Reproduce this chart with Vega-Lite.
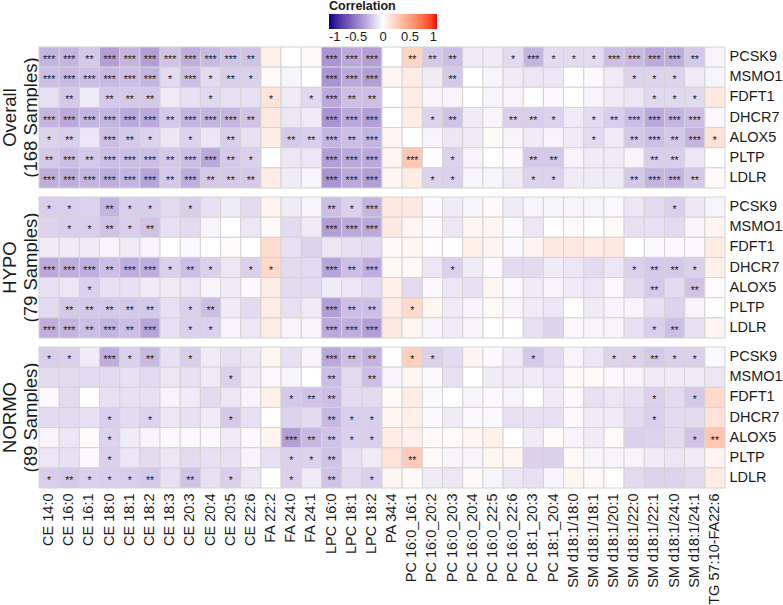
{
"$schema": "https://vega.github.io/schema/vega-lite/v6.json",
"background": "white",
"padding": 0,
"data": {"values": [
{"g":"O","y":"PCSK9","x":"CE 14:0","r":-0.28,"s":"***"},
{"g":"O","y":"PCSK9","x":"CE 16:0","r":-0.28,"s":"***"},
{"g":"O","y":"PCSK9","x":"CE 16:1","r":-0.2,"s":"**"},
{"g":"O","y":"PCSK9","x":"CE 18:0","r":-0.36,"s":"***"},
{"g":"O","y":"PCSK9","x":"CE 18:1","r":-0.28,"s":"***"},
{"g":"O","y":"PCSK9","x":"CE 18:2","r":-0.36,"s":"***"},
{"g":"O","y":"PCSK9","x":"CE 18:3","r":-0.22,"s":"***"},
{"g":"O","y":"PCSK9","x":"CE 20:3","r":-0.3,"s":"***"},
{"g":"O","y":"PCSK9","x":"CE 20:4","r":-0.26,"s":"***"},
{"g":"O","y":"PCSK9","x":"CE 20:5","r":-0.22,"s":"***"},
{"g":"O","y":"PCSK9","x":"CE 22:6","r":-0.22,"s":"**"},
{"g":"O","y":"PCSK9","x":"FA 22:2","r":0.08},
{"g":"O","y":"PCSK9","x":"FA 24:0","r":0},
{"g":"O","y":"PCSK9","x":"FA 24:1","r":0.03},
{"g":"O","y":"PCSK9","x":"LPC 16:0","r":-0.4,"s":"***"},
{"g":"O","y":"PCSK9","x":"LPC 18:1","r":-0.32,"s":"***"},
{"g":"O","y":"PCSK9","x":"LPC 18:2","r":-0.36,"s":"***"},
{"g":"O","y":"PCSK9","x":"PA 34:4","r":0},
{"g":"O","y":"PCSK9","x":"PC 16:0_16:1","r":0.22,"s":"**"},
{"g":"O","y":"PCSK9","x":"PC 16:0_20:2","r":-0.2,"s":"**"},
{"g":"O","y":"PCSK9","x":"PC 16:0_20:3","r":-0.24,"s":"**"},
{"g":"O","y":"PCSK9","x":"PC 16:0_20:4","r":-0.07},
{"g":"O","y":"PCSK9","x":"PC 16:0_22:5","r":-0.07},
{"g":"O","y":"PCSK9","x":"PC 16:0_22:6","r":-0.13,"s":"*"},
{"g":"O","y":"PCSK9","x":"PC 18:1_20:3","r":-0.28,"s":"***"},
{"g":"O","y":"PCSK9","x":"PC 18:1_20:4","r":-0.13,"s":"*"},
{"g":"O","y":"PCSK9","x":"SM d18:1/18:0","r":-0.13,"s":"*"},
{"g":"O","y":"PCSK9","x":"SM d18:1/18:1","r":-0.13,"s":"*"},
{"g":"O","y":"PCSK9","x":"SM d18:1/20:1","r":-0.24,"s":"***"},
{"g":"O","y":"PCSK9","x":"SM d18:1/22:0","r":-0.26,"s":"***"},
{"g":"O","y":"PCSK9","x":"SM d18:1/22:1","r":-0.32,"s":"***"},
{"g":"O","y":"PCSK9","x":"SM d18:1/24:0","r":-0.3,"s":"***"},
{"g":"O","y":"PCSK9","x":"SM d18:1/24:1","r":-0.2,"s":"**"},
{"g":"O","y":"PCSK9","x":"TG 57:10-FA22:6","r":-0.04},
{"g":"O","y":"MSMO1","x":"CE 14:0","r":-0.24,"s":"***"},
{"g":"O","y":"MSMO1","x":"CE 16:0","r":-0.26,"s":"***"},
{"g":"O","y":"MSMO1","x":"CE 16:1","r":-0.24,"s":"***"},
{"g":"O","y":"MSMO1","x":"CE 18:0","r":-0.26,"s":"***"},
{"g":"O","y":"MSMO1","x":"CE 18:1","r":-0.24,"s":"***"},
{"g":"O","y":"MSMO1","x":"CE 18:2","r":-0.28,"s":"***"},
{"g":"O","y":"MSMO1","x":"CE 18:3","r":-0.13,"s":"*"},
{"g":"O","y":"MSMO1","x":"CE 20:3","r":-0.24,"s":"***"},
{"g":"O","y":"MSMO1","x":"CE 20:4","r":-0.13,"s":"*"},
{"g":"O","y":"MSMO1","x":"CE 20:5","r":-0.18,"s":"**"},
{"g":"O","y":"MSMO1","x":"CE 22:6","r":-0.17,"s":"*"},
{"g":"O","y":"MSMO1","x":"FA 22:2","r":0.03},
{"g":"O","y":"MSMO1","x":"FA 24:0","r":-0.04},
{"g":"O","y":"MSMO1","x":"FA 24:1","r":0},
{"g":"O","y":"MSMO1","x":"LPC 16:0","r":-0.4,"s":"***"},
{"g":"O","y":"MSMO1","x":"LPC 18:1","r":-0.32,"s":"***"},
{"g":"O","y":"MSMO1","x":"LPC 18:2","r":-0.36,"s":"***"},
{"g":"O","y":"MSMO1","x":"PA 34:4","r":0.05},
{"g":"O","y":"MSMO1","x":"PC 16:0_16:1","r":0.1},
{"g":"O","y":"MSMO1","x":"PC 16:0_20:2","r":-0.07},
{"g":"O","y":"MSMO1","x":"PC 16:0_20:3","r":-0.2,"s":"**"},
{"g":"O","y":"MSMO1","x":"PC 16:0_20:4","r":0},
{"g":"O","y":"MSMO1","x":"PC 16:0_22:5","r":-0.04},
{"g":"O","y":"MSMO1","x":"PC 16:0_22:6","r":-0.07},
{"g":"O","y":"MSMO1","x":"PC 18:1_20:3","r":-0.09},
{"g":"O","y":"MSMO1","x":"PC 18:1_20:4","r":-0.09},
{"g":"O","y":"MSMO1","x":"SM d18:1/18:0","r":0},
{"g":"O","y":"MSMO1","x":"SM d18:1/18:1","r":-0.02},
{"g":"O","y":"MSMO1","x":"SM d18:1/20:1","r":-0.07},
{"g":"O","y":"MSMO1","x":"SM d18:1/22:0","r":-0.16,"s":"*"},
{"g":"O","y":"MSMO1","x":"SM d18:1/22:1","r":-0.16,"s":"*"},
{"g":"O","y":"MSMO1","x":"SM d18:1/24:0","r":-0.16,"s":"*"},
{"g":"O","y":"MSMO1","x":"SM d18:1/24:1","r":-0.07},
{"g":"O","y":"MSMO1","x":"TG 57:10-FA22:6","r":-0.04},
{"g":"O","y":"FDFT1","x":"CE 14:0","r":-0.11},
{"g":"O","y":"FDFT1","x":"CE 16:0","r":-0.2,"s":"**"},
{"g":"O","y":"FDFT1","x":"CE 16:1","r":-0.07},
{"g":"O","y":"FDFT1","x":"CE 18:0","r":-0.2,"s":"**"},
{"g":"O","y":"FDFT1","x":"CE 18:1","r":-0.2,"s":"**"},
{"g":"O","y":"FDFT1","x":"CE 18:2","r":-0.2,"s":"**"},
{"g":"O","y":"FDFT1","x":"CE 18:3","r":-0.07},
{"g":"O","y":"FDFT1","x":"CE 20:3","r":-0.11},
{"g":"O","y":"FDFT1","x":"CE 20:4","r":-0.14,"s":"*"},
{"g":"O","y":"FDFT1","x":"CE 20:5","r":-0.11},
{"g":"O","y":"FDFT1","x":"CE 22:6","r":-0.11},
{"g":"O","y":"FDFT1","x":"FA 22:2","r":0.15,"s":"*"},
{"g":"O","y":"FDFT1","x":"FA 24:0","r":-0.07},
{"g":"O","y":"FDFT1","x":"FA 24:1","r":-0.14,"s":"*"},
{"g":"O","y":"FDFT1","x":"LPC 16:0","r":-0.32,"s":"***"},
{"g":"O","y":"FDFT1","x":"LPC 18:1","r":-0.24,"s":"**"},
{"g":"O","y":"FDFT1","x":"LPC 18:2","r":-0.24,"s":"**"},
{"g":"O","y":"FDFT1","x":"PA 34:4","r":0},
{"g":"O","y":"FDFT1","x":"PC 16:0_16:1","r":0.1},
{"g":"O","y":"FDFT1","x":"PC 16:0_20:2","r":-0.04},
{"g":"O","y":"FDFT1","x":"PC 16:0_20:3","r":-0.04},
{"g":"O","y":"FDFT1","x":"PC 16:0_20:4","r":0},
{"g":"O","y":"FDFT1","x":"PC 16:0_22:5","r":-0.04},
{"g":"O","y":"FDFT1","x":"PC 16:0_22:6","r":-0.04},
{"g":"O","y":"FDFT1","x":"PC 18:1_20:3","r":0},
{"g":"O","y":"FDFT1","x":"PC 18:1_20:4","r":-0.02},
{"g":"O","y":"FDFT1","x":"SM d18:1/18:0","r":0},
{"g":"O","y":"FDFT1","x":"SM d18:1/18:1","r":-0.04},
{"g":"O","y":"FDFT1","x":"SM d18:1/20:1","r":-0.07},
{"g":"O","y":"FDFT1","x":"SM d18:1/22:0","r":-0.09},
{"g":"O","y":"FDFT1","x":"SM d18:1/22:1","r":-0.14,"s":"*"},
{"g":"O","y":"FDFT1","x":"SM d18:1/24:0","r":-0.14,"s":"*"},
{"g":"O","y":"FDFT1","x":"SM d18:1/24:1","r":-0.14,"s":"*"},
{"g":"O","y":"FDFT1","x":"TG 57:10-FA22:6","r":0.12},
{"g":"O","y":"DHCR7","x":"CE 14:0","r":-0.28,"s":"***"},
{"g":"O","y":"DHCR7","x":"CE 16:0","r":-0.32,"s":"***"},
{"g":"O","y":"DHCR7","x":"CE 16:1","r":-0.28,"s":"***"},
{"g":"O","y":"DHCR7","x":"CE 18:0","r":-0.28,"s":"***"},
{"g":"O","y":"DHCR7","x":"CE 18:1","r":-0.32,"s":"***"},
{"g":"O","y":"DHCR7","x":"CE 18:2","r":-0.32,"s":"***"},
{"g":"O","y":"DHCR7","x":"CE 18:3","r":-0.2,"s":"**"},
{"g":"O","y":"DHCR7","x":"CE 20:3","r":-0.28,"s":"***"},
{"g":"O","y":"DHCR7","x":"CE 20:4","r":-0.28,"s":"***"},
{"g":"O","y":"DHCR7","x":"CE 20:5","r":-0.28,"s":"***"},
{"g":"O","y":"DHCR7","x":"CE 22:6","r":-0.22,"s":"**"},
{"g":"O","y":"DHCR7","x":"FA 22:2","r":0.12},
{"g":"O","y":"DHCR7","x":"FA 24:0","r":-0.09},
{"g":"O","y":"DHCR7","x":"FA 24:1","r":-0.07},
{"g":"O","y":"DHCR7","x":"LPC 16:0","r":-0.4,"s":"***"},
{"g":"O","y":"DHCR7","x":"LPC 18:1","r":-0.32,"s":"***"},
{"g":"O","y":"DHCR7","x":"LPC 18:2","r":-0.36,"s":"***"},
{"g":"O","y":"DHCR7","x":"PA 34:4","r":0},
{"g":"O","y":"DHCR7","x":"PC 16:0_16:1","r":0.1},
{"g":"O","y":"DHCR7","x":"PC 16:0_20:2","r":-0.16,"s":"*"},
{"g":"O","y":"DHCR7","x":"PC 16:0_20:3","r":-0.22,"s":"**"},
{"g":"O","y":"DHCR7","x":"PC 16:0_20:4","r":-0.07},
{"g":"O","y":"DHCR7","x":"PC 16:0_22:5","r":-0.04},
{"g":"O","y":"DHCR7","x":"PC 16:0_22:6","r":-0.18,"s":"**"},
{"g":"O","y":"DHCR7","x":"PC 18:1_20:3","r":-0.18,"s":"**"},
{"g":"O","y":"DHCR7","x":"PC 18:1_20:4","r":-0.16,"s":"*"},
{"g":"O","y":"DHCR7","x":"SM d18:1/18:0","r":-0.07},
{"g":"O","y":"DHCR7","x":"SM d18:1/18:1","r":-0.13,"s":"*"},
{"g":"O","y":"DHCR7","x":"SM d18:1/20:1","r":-0.18,"s":"**"},
{"g":"O","y":"DHCR7","x":"SM d18:1/22:0","r":-0.24,"s":"***"},
{"g":"O","y":"DHCR7","x":"SM d18:1/22:1","r":-0.32,"s":"***"},
{"g":"O","y":"DHCR7","x":"SM d18:1/24:0","r":-0.28,"s":"***"},
{"g":"O","y":"DHCR7","x":"SM d18:1/24:1","r":-0.24,"s":"***"},
{"g":"O","y":"DHCR7","x":"TG 57:10-FA22:6","r":-0.02},
{"g":"O","y":"ALOX5","x":"CE 14:0","r":-0.16,"s":"*"},
{"g":"O","y":"ALOX5","x":"CE 16:0","r":-0.18,"s":"**"},
{"g":"O","y":"ALOX5","x":"CE 16:1","r":-0.09},
{"g":"O","y":"ALOX5","x":"CE 18:0","r":-0.24,"s":"***"},
{"g":"O","y":"ALOX5","x":"CE 18:1","r":-0.2,"s":"**"},
{"g":"O","y":"ALOX5","x":"CE 18:2","r":-0.16,"s":"*"},
{"g":"O","y":"ALOX5","x":"CE 18:3","r":-0.09},
{"g":"O","y":"ALOX5","x":"CE 20:3","r":-0.16,"s":"*"},
{"g":"O","y":"ALOX5","x":"CE 20:4","r":-0.09},
{"g":"O","y":"ALOX5","x":"CE 20:5","r":-0.18,"s":"**"},
{"g":"O","y":"ALOX5","x":"CE 22:6","r":-0.11},
{"g":"O","y":"ALOX5","x":"FA 22:2","r":0.1},
{"g":"O","y":"ALOX5","x":"FA 24:0","r":-0.2,"s":"**"},
{"g":"O","y":"ALOX5","x":"FA 24:1","r":-0.18,"s":"**"},
{"g":"O","y":"ALOX5","x":"LPC 16:0","r":-0.28,"s":"***"},
{"g":"O","y":"ALOX5","x":"LPC 18:1","r":-0.24,"s":"**"},
{"g":"O","y":"ALOX5","x":"LPC 18:2","r":-0.28,"s":"***"},
{"g":"O","y":"ALOX5","x":"PA 34:4","r":0.05},
{"g":"O","y":"ALOX5","x":"PC 16:0_16:1","r":0},
{"g":"O","y":"ALOX5","x":"PC 16:0_20:2","r":-0.04},
{"g":"O","y":"ALOX5","x":"PC 16:0_20:3","r":-0.09},
{"g":"O","y":"ALOX5","x":"PC 16:0_20:4","r":-0.07},
{"g":"O","y":"ALOX5","x":"PC 16:0_22:5","r":0.03},
{"g":"O","y":"ALOX5","x":"PC 16:0_22:6","r":-0.04},
{"g":"O","y":"ALOX5","x":"PC 18:1_20:3","r":-0.07},
{"g":"O","y":"ALOX5","x":"PC 18:1_20:4","r":-0.04},
{"g":"O","y":"ALOX5","x":"SM d18:1/18:0","r":-0.07},
{"g":"O","y":"ALOX5","x":"SM d18:1/18:1","r":-0.13,"s":"*"},
{"g":"O","y":"ALOX5","x":"SM d18:1/20:1","r":-0.07},
{"g":"O","y":"ALOX5","x":"SM d18:1/22:0","r":-0.2,"s":"**"},
{"g":"O","y":"ALOX5","x":"SM d18:1/22:1","r":-0.24,"s":"***"},
{"g":"O","y":"ALOX5","x":"SM d18:1/24:0","r":-0.2,"s":"**"},
{"g":"O","y":"ALOX5","x":"SM d18:1/24:1","r":-0.28,"s":"***"},
{"g":"O","y":"ALOX5","x":"TG 57:10-FA22:6","r":0.15,"s":"*"},
{"g":"O","y":"PLTP","x":"CE 14:0","r":-0.2,"s":"**"},
{"g":"O","y":"PLTP","x":"CE 16:0","r":-0.24,"s":"***"},
{"g":"O","y":"PLTP","x":"CE 16:1","r":-0.2,"s":"**"},
{"g":"O","y":"PLTP","x":"CE 18:0","r":-0.24,"s":"***"},
{"g":"O","y":"PLTP","x":"CE 18:1","r":-0.24,"s":"***"},
{"g":"O","y":"PLTP","x":"CE 18:2","r":-0.24,"s":"***"},
{"g":"O","y":"PLTP","x":"CE 18:3","r":-0.2,"s":"**"},
{"g":"O","y":"PLTP","x":"CE 20:3","r":-0.24,"s":"***"},
{"g":"O","y":"PLTP","x":"CE 20:4","r":-0.32,"s":"***"},
{"g":"O","y":"PLTP","x":"CE 20:5","r":-0.2,"s":"**"},
{"g":"O","y":"PLTP","x":"CE 22:6","r":-0.17,"s":"*"},
{"g":"O","y":"PLTP","x":"FA 22:2","r":0},
{"g":"O","y":"PLTP","x":"FA 24:0","r":-0.09},
{"g":"O","y":"PLTP","x":"FA 24:1","r":-0.09},
{"g":"O","y":"PLTP","x":"LPC 16:0","r":-0.36,"s":"***"},
{"g":"O","y":"PLTP","x":"LPC 18:1","r":-0.32,"s":"***"},
{"g":"O","y":"PLTP","x":"LPC 18:2","r":-0.32,"s":"***"},
{"g":"O","y":"PLTP","x":"PA 34:4","r":0.05},
{"g":"O","y":"PLTP","x":"PC 16:0_16:1","r":0.3,"s":"***"},
{"g":"O","y":"PLTP","x":"PC 16:0_20:2","r":0},
{"g":"O","y":"PLTP","x":"PC 16:0_20:3","r":-0.16,"s":"*"},
{"g":"O","y":"PLTP","x":"PC 16:0_20:4","r":-0.04},
{"g":"O","y":"PLTP","x":"PC 16:0_22:5","r":0},
{"g":"O","y":"PLTP","x":"PC 16:0_22:6","r":-0.02},
{"g":"O","y":"PLTP","x":"PC 18:1_20:3","r":-0.2,"s":"**"},
{"g":"O","y":"PLTP","x":"PC 18:1_20:4","r":-0.2,"s":"**"},
{"g":"O","y":"PLTP","x":"SM d18:1/18:0","r":-0.04},
{"g":"O","y":"PLTP","x":"SM d18:1/18:1","r":-0.07},
{"g":"O","y":"PLTP","x":"SM d18:1/20:1","r":-0.07},
{"g":"O","y":"PLTP","x":"SM d18:1/22:0","r":-0.04},
{"g":"O","y":"PLTP","x":"SM d18:1/22:1","r":-0.18,"s":"**"},
{"g":"O","y":"PLTP","x":"SM d18:1/24:0","r":-0.18,"s":"**"},
{"g":"O","y":"PLTP","x":"SM d18:1/24:1","r":-0.09},
{"g":"O","y":"PLTP","x":"TG 57:10-FA22:6","r":0},
{"g":"O","y":"LDLR","x":"CE 14:0","r":-0.3,"s":"***"},
{"g":"O","y":"LDLR","x":"CE 16:0","r":-0.3,"s":"***"},
{"g":"O","y":"LDLR","x":"CE 16:1","r":-0.28,"s":"***"},
{"g":"O","y":"LDLR","x":"CE 18:0","r":-0.3,"s":"***"},
{"g":"O","y":"LDLR","x":"CE 18:1","r":-0.28,"s":"***"},
{"g":"O","y":"LDLR","x":"CE 18:2","r":-0.34,"s":"***"},
{"g":"O","y":"LDLR","x":"CE 18:3","r":-0.2,"s":"**"},
{"g":"O","y":"LDLR","x":"CE 20:3","r":-0.3,"s":"***"},
{"g":"O","y":"LDLR","x":"CE 20:4","r":-0.2,"s":"**"},
{"g":"O","y":"LDLR","x":"CE 20:5","r":-0.2,"s":"**"},
{"g":"O","y":"LDLR","x":"CE 22:6","r":-0.2,"s":"**"},
{"g":"O","y":"LDLR","x":"FA 22:2","r":0.1},
{"g":"O","y":"LDLR","x":"FA 24:0","r":-0.07},
{"g":"O","y":"LDLR","x":"FA 24:1","r":-0.04},
{"g":"O","y":"LDLR","x":"LPC 16:0","r":-0.4,"s":"***"},
{"g":"O","y":"LDLR","x":"LPC 18:1","r":-0.32,"s":"***"},
{"g":"O","y":"LDLR","x":"LPC 18:2","r":-0.36,"s":"***"},
{"g":"O","y":"LDLR","x":"PA 34:4","r":0.05},
{"g":"O","y":"LDLR","x":"PC 16:0_16:1","r":0.1},
{"g":"O","y":"LDLR","x":"PC 16:0_20:2","r":-0.16,"s":"*"},
{"g":"O","y":"LDLR","x":"PC 16:0_20:3","r":-0.17,"s":"*"},
{"g":"O","y":"LDLR","x":"PC 16:0_20:4","r":-0.04},
{"g":"O","y":"LDLR","x":"PC 16:0_22:5","r":-0.04},
{"g":"O","y":"LDLR","x":"PC 16:0_22:6","r":-0.07},
{"g":"O","y":"LDLR","x":"PC 18:1_20:3","r":-0.16,"s":"*"},
{"g":"O","y":"LDLR","x":"PC 18:1_20:4","r":-0.16,"s":"*"},
{"g":"O","y":"LDLR","x":"SM d18:1/18:0","r":-0.07},
{"g":"O","y":"LDLR","x":"SM d18:1/18:1","r":-0.07},
{"g":"O","y":"LDLR","x":"SM d18:1/20:1","r":-0.07},
{"g":"O","y":"LDLR","x":"SM d18:1/22:0","r":-0.2,"s":"**"},
{"g":"O","y":"LDLR","x":"SM d18:1/22:1","r":-0.28,"s":"***"},
{"g":"O","y":"LDLR","x":"SM d18:1/24:0","r":-0.28,"s":"***"},
{"g":"O","y":"LDLR","x":"SM d18:1/24:1","r":-0.2,"s":"**"},
{"g":"O","y":"LDLR","x":"TG 57:10-FA22:6","r":0.03},
{"g":"H","y":"PCSK9","x":"CE 14:0","r":-0.18,"s":"*"},
{"g":"H","y":"PCSK9","x":"CE 16:0","r":-0.18,"s":"*"},
{"g":"H","y":"PCSK9","x":"CE 16:1","r":-0.16},
{"g":"H","y":"PCSK9","x":"CE 18:0","r":-0.28,"s":"**"},
{"g":"H","y":"PCSK9","x":"CE 18:1","r":-0.18,"s":"*"},
{"g":"H","y":"PCSK9","x":"CE 18:2","r":-0.18,"s":"*"},
{"g":"H","y":"PCSK9","x":"CE 18:3","r":-0.13},
{"g":"H","y":"PCSK9","x":"CE 20:3","r":-0.18,"s":"*"},
{"g":"H","y":"PCSK9","x":"CE 20:4","r":-0.11},
{"g":"H","y":"PCSK9","x":"CE 20:5","r":-0.07},
{"g":"H","y":"PCSK9","x":"CE 22:6","r":-0.13},
{"g":"H","y":"PCSK9","x":"FA 22:2","r":0.06},
{"g":"H","y":"PCSK9","x":"FA 24:0","r":-0.07},
{"g":"H","y":"PCSK9","x":"FA 24:1","r":-0.04},
{"g":"H","y":"PCSK9","x":"LPC 16:0","r":-0.24,"s":"**"},
{"g":"H","y":"PCSK9","x":"LPC 18:1","r":-0.17,"s":"*"},
{"g":"H","y":"PCSK9","x":"LPC 18:2","r":-0.28,"s":"***"},
{"g":"H","y":"PCSK9","x":"PA 34:4","r":0.12},
{"g":"H","y":"PCSK9","x":"PC 16:0_16:1","r":0.12},
{"g":"H","y":"PCSK9","x":"PC 16:0_20:2","r":-0.02},
{"g":"H","y":"PCSK9","x":"PC 16:0_20:3","r":-0.07},
{"g":"H","y":"PCSK9","x":"PC 16:0_20:4","r":-0.04},
{"g":"H","y":"PCSK9","x":"PC 16:0_22:5","r":0.03},
{"g":"H","y":"PCSK9","x":"PC 16:0_22:6","r":-0.07},
{"g":"H","y":"PCSK9","x":"PC 18:1_20:3","r":-0.04},
{"g":"H","y":"PCSK9","x":"PC 18:1_20:4","r":-0.04},
{"g":"H","y":"PCSK9","x":"SM d18:1/18:0","r":-0.04},
{"g":"H","y":"PCSK9","x":"SM d18:1/18:1","r":-0.04},
{"g":"H","y":"PCSK9","x":"SM d18:1/20:1","r":-0.02},
{"g":"H","y":"PCSK9","x":"SM d18:1/22:0","r":-0.09},
{"g":"H","y":"PCSK9","x":"SM d18:1/22:1","r":-0.13},
{"g":"H","y":"PCSK9","x":"SM d18:1/24:0","r":-0.17,"s":"*"},
{"g":"H","y":"PCSK9","x":"SM d18:1/24:1","r":-0.09},
{"g":"H","y":"PCSK9","x":"TG 57:10-FA22:6","r":-0.04},
{"g":"H","y":"MSMO1","x":"CE 14:0","r":-0.16},
{"g":"H","y":"MSMO1","x":"CE 16:0","r":-0.18,"s":"*"},
{"g":"H","y":"MSMO1","x":"CE 16:1","r":-0.18,"s":"*"},
{"g":"H","y":"MSMO1","x":"CE 18:0","r":-0.22,"s":"**"},
{"g":"H","y":"MSMO1","x":"CE 18:1","r":-0.18,"s":"*"},
{"g":"H","y":"MSMO1","x":"CE 18:2","r":-0.22,"s":"**"},
{"g":"H","y":"MSMO1","x":"CE 18:3","r":-0.11},
{"g":"H","y":"MSMO1","x":"CE 20:3","r":-0.13},
{"g":"H","y":"MSMO1","x":"CE 20:4","r":-0.04},
{"g":"H","y":"MSMO1","x":"CE 20:5","r":0},
{"g":"H","y":"MSMO1","x":"CE 22:6","r":-0.09},
{"g":"H","y":"MSMO1","x":"FA 22:2","r":0.03},
{"g":"H","y":"MSMO1","x":"FA 24:0","r":-0.13},
{"g":"H","y":"MSMO1","x":"FA 24:1","r":-0.07},
{"g":"H","y":"MSMO1","x":"LPC 16:0","r":-0.36,"s":"***"},
{"g":"H","y":"MSMO1","x":"LPC 18:1","r":-0.32,"s":"***"},
{"g":"H","y":"MSMO1","x":"LPC 18:2","r":-0.32,"s":"***"},
{"g":"H","y":"MSMO1","x":"PA 34:4","r":0.12},
{"g":"H","y":"MSMO1","x":"PC 16:0_16:1","r":0.05},
{"g":"H","y":"MSMO1","x":"PC 16:0_20:2","r":-0.02},
{"g":"H","y":"MSMO1","x":"PC 16:0_20:3","r":-0.09},
{"g":"H","y":"MSMO1","x":"PC 16:0_20:4","r":0.05},
{"g":"H","y":"MSMO1","x":"PC 16:0_22:5","r":0.05},
{"g":"H","y":"MSMO1","x":"PC 16:0_22:6","r":-0.02},
{"g":"H","y":"MSMO1","x":"PC 18:1_20:3","r":-0.09},
{"g":"H","y":"MSMO1","x":"PC 18:1_20:4","r":0},
{"g":"H","y":"MSMO1","x":"SM d18:1/18:0","r":0.03},
{"g":"H","y":"MSMO1","x":"SM d18:1/18:1","r":0},
{"g":"H","y":"MSMO1","x":"SM d18:1/20:1","r":0.03},
{"g":"H","y":"MSMO1","x":"SM d18:1/22:0","r":-0.11},
{"g":"H","y":"MSMO1","x":"SM d18:1/22:1","r":-0.11},
{"g":"H","y":"MSMO1","x":"SM d18:1/24:0","r":-0.13},
{"g":"H","y":"MSMO1","x":"SM d18:1/24:1","r":-0.04},
{"g":"H","y":"MSMO1","x":"TG 57:10-FA22:6","r":0.05},
{"g":"H","y":"FDFT1","x":"CE 14:0","r":-0.07},
{"g":"H","y":"FDFT1","x":"CE 16:0","r":-0.07},
{"g":"H","y":"FDFT1","x":"CE 16:1","r":-0.07},
{"g":"H","y":"FDFT1","x":"CE 18:0","r":-0.04},
{"g":"H","y":"FDFT1","x":"CE 18:1","r":-0.07},
{"g":"H","y":"FDFT1","x":"CE 18:2","r":-0.04},
{"g":"H","y":"FDFT1","x":"CE 18:3","r":0},
{"g":"H","y":"FDFT1","x":"CE 20:3","r":-0.02},
{"g":"H","y":"FDFT1","x":"CE 20:4","r":0},
{"g":"H","y":"FDFT1","x":"CE 20:5","r":0.02},
{"g":"H","y":"FDFT1","x":"CE 22:6","r":0},
{"g":"H","y":"FDFT1","x":"FA 22:2","r":0.18},
{"g":"H","y":"FDFT1","x":"FA 24:0","r":-0.11},
{"g":"H","y":"FDFT1","x":"FA 24:1","r":-0.16},
{"g":"H","y":"FDFT1","x":"LPC 16:0","r":-0.09},
{"g":"H","y":"FDFT1","x":"LPC 18:1","r":-0.11},
{"g":"H","y":"FDFT1","x":"LPC 18:2","r":-0.13},
{"g":"H","y":"FDFT1","x":"PA 34:4","r":0.03},
{"g":"H","y":"FDFT1","x":"PC 16:0_16:1","r":0.05},
{"g":"H","y":"FDFT1","x":"PC 16:0_20:2","r":0.02},
{"g":"H","y":"FDFT1","x":"PC 16:0_20:3","r":0},
{"g":"H","y":"FDFT1","x":"PC 16:0_20:4","r":0.08},
{"g":"H","y":"FDFT1","x":"PC 16:0_22:5","r":0.06},
{"g":"H","y":"FDFT1","x":"PC 16:0_22:6","r":-0.02},
{"g":"H","y":"FDFT1","x":"PC 18:1_20:3","r":0.06},
{"g":"H","y":"FDFT1","x":"PC 18:1_20:4","r":0.12},
{"g":"H","y":"FDFT1","x":"SM d18:1/18:0","r":0.12},
{"g":"H","y":"FDFT1","x":"SM d18:1/18:1","r":0.1},
{"g":"H","y":"FDFT1","x":"SM d18:1/20:1","r":0.12},
{"g":"H","y":"FDFT1","x":"SM d18:1/22:0","r":0},
{"g":"H","y":"FDFT1","x":"SM d18:1/22:1","r":-0.02},
{"g":"H","y":"FDFT1","x":"SM d18:1/24:0","r":-0.02},
{"g":"H","y":"FDFT1","x":"SM d18:1/24:1","r":-0.02},
{"g":"H","y":"FDFT1","x":"TG 57:10-FA22:6","r":0.1},
{"g":"H","y":"DHCR7","x":"CE 14:0","r":-0.32,"s":"***"},
{"g":"H","y":"DHCR7","x":"CE 16:0","r":-0.3,"s":"***"},
{"g":"H","y":"DHCR7","x":"CE 16:1","r":-0.3,"s":"***"},
{"g":"H","y":"DHCR7","x":"CE 18:0","r":-0.24,"s":"**"},
{"g":"H","y":"DHCR7","x":"CE 18:1","r":-0.3,"s":"***"},
{"g":"H","y":"DHCR7","x":"CE 18:2","r":-0.3,"s":"***"},
{"g":"H","y":"DHCR7","x":"CE 18:3","r":-0.17,"s":"*"},
{"g":"H","y":"DHCR7","x":"CE 20:3","r":-0.24,"s":"**"},
{"g":"H","y":"DHCR7","x":"CE 20:4","r":-0.17,"s":"*"},
{"g":"H","y":"DHCR7","x":"CE 20:5","r":-0.09},
{"g":"H","y":"DHCR7","x":"CE 22:6","r":-0.17,"s":"*"},
{"g":"H","y":"DHCR7","x":"FA 22:2","r":0.2,"s":"*"},
{"g":"H","y":"DHCR7","x":"FA 24:0","r":-0.13},
{"g":"H","y":"DHCR7","x":"FA 24:1","r":-0.13},
{"g":"H","y":"DHCR7","x":"LPC 16:0","r":-0.34,"s":"***"},
{"g":"H","y":"DHCR7","x":"LPC 18:1","r":-0.24,"s":"**"},
{"g":"H","y":"DHCR7","x":"LPC 18:2","r":-0.3,"s":"***"},
{"g":"H","y":"DHCR7","x":"PA 34:4","r":0.04},
{"g":"H","y":"DHCR7","x":"PC 16:0_16:1","r":0.03},
{"g":"H","y":"DHCR7","x":"PC 16:0_20:2","r":-0.09},
{"g":"H","y":"DHCR7","x":"PC 16:0_20:3","r":-0.17,"s":"*"},
{"g":"H","y":"DHCR7","x":"PC 16:0_20:4","r":-0.07},
{"g":"H","y":"DHCR7","x":"PC 16:0_22:5","r":-0.02},
{"g":"H","y":"DHCR7","x":"PC 16:0_22:6","r":-0.13},
{"g":"H","y":"DHCR7","x":"PC 18:1_20:3","r":-0.13},
{"g":"H","y":"DHCR7","x":"PC 18:1_20:4","r":-0.07},
{"g":"H","y":"DHCR7","x":"SM d18:1/18:0","r":-0.09},
{"g":"H","y":"DHCR7","x":"SM d18:1/18:1","r":-0.13},
{"g":"H","y":"DHCR7","x":"SM d18:1/20:1","r":-0.09},
{"g":"H","y":"DHCR7","x":"SM d18:1/22:0","r":-0.17,"s":"*"},
{"g":"H","y":"DHCR7","x":"SM d18:1/22:1","r":-0.2,"s":"**"},
{"g":"H","y":"DHCR7","x":"SM d18:1/24:0","r":-0.2,"s":"**"},
{"g":"H","y":"DHCR7","x":"SM d18:1/24:1","r":-0.17,"s":"*"},
{"g":"H","y":"DHCR7","x":"TG 57:10-FA22:6","r":0.08},
{"g":"H","y":"ALOX5","x":"CE 14:0","r":-0.11},
{"g":"H","y":"ALOX5","x":"CE 16:0","r":-0.09},
{"g":"H","y":"ALOX5","x":"CE 16:1","r":-0.17,"s":"*"},
{"g":"H","y":"ALOX5","x":"CE 18:0","r":-0.11},
{"g":"H","y":"ALOX5","x":"CE 18:1","r":-0.11},
{"g":"H","y":"ALOX5","x":"CE 18:2","r":-0.07},
{"g":"H","y":"ALOX5","x":"CE 18:3","r":-0.07},
{"g":"H","y":"ALOX5","x":"CE 20:3","r":-0.09},
{"g":"H","y":"ALOX5","x":"CE 20:4","r":-0.04},
{"g":"H","y":"ALOX5","x":"CE 20:5","r":-0.07},
{"g":"H","y":"ALOX5","x":"CE 22:6","r":-0.02},
{"g":"H","y":"ALOX5","x":"FA 22:2","r":0.1},
{"g":"H","y":"ALOX5","x":"FA 24:0","r":-0.13},
{"g":"H","y":"ALOX5","x":"FA 24:1","r":-0.13},
{"g":"H","y":"ALOX5","x":"LPC 16:0","r":-0.07},
{"g":"H","y":"ALOX5","x":"LPC 18:1","r":-0.09},
{"g":"H","y":"ALOX5","x":"LPC 18:2","r":-0.13},
{"g":"H","y":"ALOX5","x":"PA 34:4","r":0.08},
{"g":"H","y":"ALOX5","x":"PC 16:0_16:1","r":-0.13},
{"g":"H","y":"ALOX5","x":"PC 16:0_20:2","r":-0.02},
{"g":"H","y":"ALOX5","x":"PC 16:0_20:3","r":-0.09},
{"g":"H","y":"ALOX5","x":"PC 16:0_20:4","r":-0.11},
{"g":"H","y":"ALOX5","x":"PC 16:0_22:5","r":0.05},
{"g":"H","y":"ALOX5","x":"PC 16:0_22:6","r":-0.02},
{"g":"H","y":"ALOX5","x":"PC 18:1_20:3","r":-0.07},
{"g":"H","y":"ALOX5","x":"PC 18:1_20:4","r":-0.04},
{"g":"H","y":"ALOX5","x":"SM d18:1/18:0","r":-0.07},
{"g":"H","y":"ALOX5","x":"SM d18:1/18:1","r":-0.09},
{"g":"H","y":"ALOX5","x":"SM d18:1/20:1","r":-0.02},
{"g":"H","y":"ALOX5","x":"SM d18:1/22:0","r":-0.13},
{"g":"H","y":"ALOX5","x":"SM d18:1/22:1","r":-0.2,"s":"**"},
{"g":"H","y":"ALOX5","x":"SM d18:1/24:0","r":-0.13},
{"g":"H","y":"ALOX5","x":"SM d18:1/24:1","r":-0.22,"s":"**"},
{"g":"H","y":"ALOX5","x":"TG 57:10-FA22:6","r":0.02},
{"g":"H","y":"PLTP","x":"CE 14:0","r":-0.13},
{"g":"H","y":"PLTP","x":"CE 16:0","r":-0.2,"s":"**"},
{"g":"H","y":"PLTP","x":"CE 16:1","r":-0.2,"s":"**"},
{"g":"H","y":"PLTP","x":"CE 18:0","r":-0.2,"s":"**"},
{"g":"H","y":"PLTP","x":"CE 18:1","r":-0.2,"s":"**"},
{"g":"H","y":"PLTP","x":"CE 18:2","r":-0.2,"s":"**"},
{"g":"H","y":"PLTP","x":"CE 18:3","r":-0.11},
{"g":"H","y":"PLTP","x":"CE 20:3","r":-0.17,"s":"*"},
{"g":"H","y":"PLTP","x":"CE 20:4","r":-0.24,"s":"**"},
{"g":"H","y":"PLTP","x":"CE 20:5","r":-0.07},
{"g":"H","y":"PLTP","x":"CE 22:6","r":-0.13},
{"g":"H","y":"PLTP","x":"FA 22:2","r":0.1},
{"g":"H","y":"PLTP","x":"FA 24:0","r":-0.11},
{"g":"H","y":"PLTP","x":"FA 24:1","r":-0.07},
{"g":"H","y":"PLTP","x":"LPC 16:0","r":-0.36,"s":"***"},
{"g":"H","y":"PLTP","x":"LPC 18:1","r":-0.24,"s":"**"},
{"g":"H","y":"PLTP","x":"LPC 18:2","r":-0.24,"s":"**"},
{"g":"H","y":"PLTP","x":"PA 34:4","r":0.1},
{"g":"H","y":"PLTP","x":"PC 16:0_16:1","r":0.2,"s":"*"},
{"g":"H","y":"PLTP","x":"PC 16:0_20:2","r":0.05},
{"g":"H","y":"PLTP","x":"PC 16:0_20:3","r":-0.07},
{"g":"H","y":"PLTP","x":"PC 16:0_20:4","r":-0.04},
{"g":"H","y":"PLTP","x":"PC 16:0_22:5","r":0.03},
{"g":"H","y":"PLTP","x":"PC 16:0_22:6","r":-0.04},
{"g":"H","y":"PLTP","x":"PC 18:1_20:3","r":-0.07},
{"g":"H","y":"PLTP","x":"PC 18:1_20:4","r":-0.09},
{"g":"H","y":"PLTP","x":"SM d18:1/18:0","r":0},
{"g":"H","y":"PLTP","x":"SM d18:1/18:1","r":-0.07},
{"g":"H","y":"PLTP","x":"SM d18:1/20:1","r":-0.04},
{"g":"H","y":"PLTP","x":"SM d18:1/22:0","r":-0.04},
{"g":"H","y":"PLTP","x":"SM d18:1/22:1","r":-0.11},
{"g":"H","y":"PLTP","x":"SM d18:1/24:0","r":-0.16},
{"g":"H","y":"PLTP","x":"SM d18:1/24:1","r":-0.04},
{"g":"H","y":"PLTP","x":"TG 57:10-FA22:6","r":0},
{"g":"H","y":"LDLR","x":"CE 14:0","r":-0.3,"s":"***"},
{"g":"H","y":"LDLR","x":"CE 16:0","r":-0.28,"s":"***"},
{"g":"H","y":"LDLR","x":"CE 16:1","r":-0.24,"s":"**"},
{"g":"H","y":"LDLR","x":"CE 18:0","r":-0.28,"s":"***"},
{"g":"H","y":"LDLR","x":"CE 18:1","r":-0.24,"s":"**"},
{"g":"H","y":"LDLR","x":"CE 18:2","r":-0.34,"s":"***"},
{"g":"H","y":"LDLR","x":"CE 18:3","r":-0.11},
{"g":"H","y":"LDLR","x":"CE 20:3","r":-0.17,"s":"*"},
{"g":"H","y":"LDLR","x":"CE 20:4","r":-0.17,"s":"*"},
{"g":"H","y":"LDLR","x":"CE 20:5","r":-0.04},
{"g":"H","y":"LDLR","x":"CE 22:6","r":-0.09},
{"g":"H","y":"LDLR","x":"FA 22:2","r":0.1},
{"g":"H","y":"LDLR","x":"FA 24:0","r":-0.04},
{"g":"H","y":"LDLR","x":"FA 24:1","r":-0.04},
{"g":"H","y":"LDLR","x":"LPC 16:0","r":-0.32,"s":"***"},
{"g":"H","y":"LDLR","x":"LPC 18:1","r":-0.3,"s":"***"},
{"g":"H","y":"LDLR","x":"LPC 18:2","r":-0.36,"s":"***"},
{"g":"H","y":"LDLR","x":"PA 34:4","r":0.12},
{"g":"H","y":"LDLR","x":"PC 16:0_16:1","r":0.05},
{"g":"H","y":"LDLR","x":"PC 16:0_20:2","r":-0.04},
{"g":"H","y":"LDLR","x":"PC 16:0_20:3","r":-0.07},
{"g":"H","y":"LDLR","x":"PC 16:0_20:4","r":-0.04},
{"g":"H","y":"LDLR","x":"PC 16:0_22:5","r":0},
{"g":"H","y":"LDLR","x":"PC 16:0_22:6","r":0},
{"g":"H","y":"LDLR","x":"PC 18:1_20:3","r":-0.11},
{"g":"H","y":"LDLR","x":"PC 18:1_20:4","r":-0.16},
{"g":"H","y":"LDLR","x":"SM d18:1/18:0","r":-0.02},
{"g":"H","y":"LDLR","x":"SM d18:1/18:1","r":-0.04},
{"g":"H","y":"LDLR","x":"SM d18:1/20:1","r":-0.04},
{"g":"H","y":"LDLR","x":"SM d18:1/22:0","r":-0.11},
{"g":"H","y":"LDLR","x":"SM d18:1/22:1","r":-0.18,"s":"*"},
{"g":"H","y":"LDLR","x":"SM d18:1/24:0","r":-0.24,"s":"**"},
{"g":"H","y":"LDLR","x":"SM d18:1/24:1","r":-0.11},
{"g":"H","y":"LDLR","x":"TG 57:10-FA22:6","r":0.05},
{"g":"N","y":"PCSK9","x":"CE 14:0","r":-0.18,"s":"*"},
{"g":"N","y":"PCSK9","x":"CE 16:0","r":-0.17,"s":"*"},
{"g":"N","y":"PCSK9","x":"CE 16:1","r":-0.07},
{"g":"N","y":"PCSK9","x":"CE 18:0","r":-0.3,"s":"***"},
{"g":"N","y":"PCSK9","x":"CE 18:1","r":-0.17,"s":"*"},
{"g":"N","y":"PCSK9","x":"CE 18:2","r":-0.26,"s":"**"},
{"g":"N","y":"PCSK9","x":"CE 18:3","r":-0.11},
{"g":"N","y":"PCSK9","x":"CE 20:3","r":-0.18,"s":"*"},
{"g":"N","y":"PCSK9","x":"CE 20:4","r":-0.07},
{"g":"N","y":"PCSK9","x":"CE 20:5","r":-0.11},
{"g":"N","y":"PCSK9","x":"CE 22:6","r":-0.09},
{"g":"N","y":"PCSK9","x":"FA 22:2","r":0.05},
{"g":"N","y":"PCSK9","x":"FA 24:0","r":-0.11},
{"g":"N","y":"PCSK9","x":"FA 24:1","r":-0.04},
{"g":"N","y":"PCSK9","x":"LPC 16:0","r":-0.32,"s":"***"},
{"g":"N","y":"PCSK9","x":"LPC 18:1","r":-0.24,"s":"**"},
{"g":"N","y":"PCSK9","x":"LPC 18:2","r":-0.28,"s":"**"},
{"g":"N","y":"PCSK9","x":"PA 34:4","r":0},
{"g":"N","y":"PCSK9","x":"PC 16:0_16:1","r":0.25,"s":"*"},
{"g":"N","y":"PCSK9","x":"PC 16:0_20:2","r":-0.17,"s":"*"},
{"g":"N","y":"PCSK9","x":"PC 16:0_20:3","r":-0.13},
{"g":"N","y":"PCSK9","x":"PC 16:0_20:4","r":0.06},
{"g":"N","y":"PCSK9","x":"PC 16:0_22:5","r":-0.02},
{"g":"N","y":"PCSK9","x":"PC 16:0_22:6","r":-0.07},
{"g":"N","y":"PCSK9","x":"PC 18:1_20:3","r":-0.2,"s":"*"},
{"g":"N","y":"PCSK9","x":"PC 18:1_20:4","r":-0.13},
{"g":"N","y":"PCSK9","x":"SM d18:1/18:0","r":-0.04},
{"g":"N","y":"PCSK9","x":"SM d18:1/18:1","r":-0.09},
{"g":"N","y":"PCSK9","x":"SM d18:1/20:1","r":-0.16,"s":"*"},
{"g":"N","y":"PCSK9","x":"SM d18:1/22:0","r":-0.16,"s":"*"},
{"g":"N","y":"PCSK9","x":"SM d18:1/22:1","r":-0.2,"s":"**"},
{"g":"N","y":"PCSK9","x":"SM d18:1/24:0","r":-0.17,"s":"*"},
{"g":"N","y":"PCSK9","x":"SM d18:1/24:1","r":-0.17,"s":"*"},
{"g":"N","y":"PCSK9","x":"TG 57:10-FA22:6","r":-0.02},
{"g":"N","y":"MSMO1","x":"CE 14:0","r":-0.13},
{"g":"N","y":"MSMO1","x":"CE 16:0","r":-0.13},
{"g":"N","y":"MSMO1","x":"CE 16:1","r":-0.13},
{"g":"N","y":"MSMO1","x":"CE 18:0","r":-0.13},
{"g":"N","y":"MSMO1","x":"CE 18:1","r":-0.11},
{"g":"N","y":"MSMO1","x":"CE 18:2","r":-0.13},
{"g":"N","y":"MSMO1","x":"CE 18:3","r":-0.09},
{"g":"N","y":"MSMO1","x":"CE 20:3","r":-0.11},
{"g":"N","y":"MSMO1","x":"CE 20:4","r":-0.07},
{"g":"N","y":"MSMO1","x":"CE 20:5","r":-0.17,"s":"*"},
{"g":"N","y":"MSMO1","x":"CE 22:6","r":-0.07},
{"g":"N","y":"MSMO1","x":"FA 22:2","r":-0.02},
{"g":"N","y":"MSMO1","x":"FA 24:0","r":-0.04},
{"g":"N","y":"MSMO1","x":"FA 24:1","r":0},
{"g":"N","y":"MSMO1","x":"LPC 16:0","r":-0.24,"s":"**"},
{"g":"N","y":"MSMO1","x":"LPC 18:1","r":-0.13},
{"g":"N","y":"MSMO1","x":"LPC 18:2","r":-0.24,"s":"**"},
{"g":"N","y":"MSMO1","x":"PA 34:4","r":-0.04},
{"g":"N","y":"MSMO1","x":"PC 16:0_16:1","r":0.05},
{"g":"N","y":"MSMO1","x":"PC 16:0_20:2","r":-0.02},
{"g":"N","y":"MSMO1","x":"PC 16:0_20:3","r":-0.11},
{"g":"N","y":"MSMO1","x":"PC 16:0_20:4","r":0},
{"g":"N","y":"MSMO1","x":"PC 16:0_22:5","r":-0.07},
{"g":"N","y":"MSMO1","x":"PC 16:0_22:6","r":-0.07},
{"g":"N","y":"MSMO1","x":"PC 18:1_20:3","r":-0.07},
{"g":"N","y":"MSMO1","x":"PC 18:1_20:4","r":-0.09},
{"g":"N","y":"MSMO1","x":"SM d18:1/18:0","r":0.03},
{"g":"N","y":"MSMO1","x":"SM d18:1/18:1","r":0.03},
{"g":"N","y":"MSMO1","x":"SM d18:1/20:1","r":-0.02},
{"g":"N","y":"MSMO1","x":"SM d18:1/22:0","r":-0.04},
{"g":"N","y":"MSMO1","x":"SM d18:1/22:1","r":-0.07},
{"g":"N","y":"MSMO1","x":"SM d18:1/24:0","r":-0.07},
{"g":"N","y":"MSMO1","x":"SM d18:1/24:1","r":-0.07},
{"g":"N","y":"MSMO1","x":"TG 57:10-FA22:6","r":-0.09},
{"g":"N","y":"FDFT1","x":"CE 14:0","r":-0.02},
{"g":"N","y":"FDFT1","x":"CE 16:0","r":-0.13},
{"g":"N","y":"FDFT1","x":"CE 16:1","r":0},
{"g":"N","y":"FDFT1","x":"CE 18:0","r":-0.11},
{"g":"N","y":"FDFT1","x":"CE 18:1","r":-0.11},
{"g":"N","y":"FDFT1","x":"CE 18:2","r":-0.11},
{"g":"N","y":"FDFT1","x":"CE 18:3","r":-0.04},
{"g":"N","y":"FDFT1","x":"CE 20:3","r":-0.07},
{"g":"N","y":"FDFT1","x":"CE 20:4","r":-0.13},
{"g":"N","y":"FDFT1","x":"CE 20:5","r":-0.09},
{"g":"N","y":"FDFT1","x":"CE 22:6","r":-0.04},
{"g":"N","y":"FDFT1","x":"FA 22:2","r":0.08},
{"g":"N","y":"FDFT1","x":"FA 24:0","r":-0.2,"s":"*"},
{"g":"N","y":"FDFT1","x":"FA 24:1","r":-0.22,"s":"**"},
{"g":"N","y":"FDFT1","x":"LPC 16:0","r":-0.24,"s":"**"},
{"g":"N","y":"FDFT1","x":"LPC 18:1","r":-0.13},
{"g":"N","y":"FDFT1","x":"LPC 18:2","r":-0.13},
{"g":"N","y":"FDFT1","x":"PA 34:4","r":0.03},
{"g":"N","y":"FDFT1","x":"PC 16:0_16:1","r":0.1},
{"g":"N","y":"FDFT1","x":"PC 16:0_20:2","r":-0.02},
{"g":"N","y":"FDFT1","x":"PC 16:0_20:3","r":0},
{"g":"N","y":"FDFT1","x":"PC 16:0_20:4","r":-0.04},
{"g":"N","y":"FDFT1","x":"PC 16:0_22:5","r":-0.02},
{"g":"N","y":"FDFT1","x":"PC 16:0_22:6","r":-0.04},
{"g":"N","y":"FDFT1","x":"PC 18:1_20:3","r":0},
{"g":"N","y":"FDFT1","x":"PC 18:1_20:4","r":-0.07},
{"g":"N","y":"FDFT1","x":"SM d18:1/18:0","r":-0.02},
{"g":"N","y":"FDFT1","x":"SM d18:1/18:1","r":-0.11},
{"g":"N","y":"FDFT1","x":"SM d18:1/20:1","r":-0.09},
{"g":"N","y":"FDFT1","x":"SM d18:1/22:0","r":-0.11},
{"g":"N","y":"FDFT1","x":"SM d18:1/22:1","r":-0.17,"s":"*"},
{"g":"N","y":"FDFT1","x":"SM d18:1/24:0","r":-0.13},
{"g":"N","y":"FDFT1","x":"SM d18:1/24:1","r":-0.2,"s":"*"},
{"g":"N","y":"FDFT1","x":"TG 57:10-FA22:6","r":0.2},
{"g":"N","y":"DHCR7","x":"CE 14:0","r":-0.13},
{"g":"N","y":"DHCR7","x":"CE 16:0","r":-0.13},
{"g":"N","y":"DHCR7","x":"CE 16:1","r":-0.11},
{"g":"N","y":"DHCR7","x":"CE 18:0","r":-0.18,"s":"*"},
{"g":"N","y":"DHCR7","x":"CE 18:1","r":-0.13},
{"g":"N","y":"DHCR7","x":"CE 18:2","r":-0.16,"s":"*"},
{"g":"N","y":"DHCR7","x":"CE 18:3","r":-0.09},
{"g":"N","y":"DHCR7","x":"CE 20:3","r":-0.11},
{"g":"N","y":"DHCR7","x":"CE 20:4","r":-0.07},
{"g":"N","y":"DHCR7","x":"CE 20:5","r":-0.2,"s":"*"},
{"g":"N","y":"DHCR7","x":"CE 22:6","r":-0.11},
{"g":"N","y":"DHCR7","x":"FA 22:2","r":0},
{"g":"N","y":"DHCR7","x":"FA 24:0","r":-0.16},
{"g":"N","y":"DHCR7","x":"FA 24:1","r":-0.13},
{"g":"N","y":"DHCR7","x":"LPC 16:0","r":-0.26,"s":"**"},
{"g":"N","y":"DHCR7","x":"LPC 18:1","r":-0.18,"s":"*"},
{"g":"N","y":"DHCR7","x":"LPC 18:2","r":-0.18,"s":"*"},
{"g":"N","y":"DHCR7","x":"PA 34:4","r":0.05},
{"g":"N","y":"DHCR7","x":"PC 16:0_16:1","r":0.08},
{"g":"N","y":"DHCR7","x":"PC 16:0_20:2","r":-0.02},
{"g":"N","y":"DHCR7","x":"PC 16:0_20:3","r":-0.07},
{"g":"N","y":"DHCR7","x":"PC 16:0_20:4","r":-0.02},
{"g":"N","y":"DHCR7","x":"PC 16:0_22:5","r":-0.02},
{"g":"N","y":"DHCR7","x":"PC 16:0_22:6","r":-0.11},
{"g":"N","y":"DHCR7","x":"PC 18:1_20:3","r":-0.11},
{"g":"N","y":"DHCR7","x":"PC 18:1_20:4","r":-0.11},
{"g":"N","y":"DHCR7","x":"SM d18:1/18:0","r":-0.02},
{"g":"N","y":"DHCR7","x":"SM d18:1/18:1","r":-0.07},
{"g":"N","y":"DHCR7","x":"SM d18:1/20:1","r":-0.07},
{"g":"N","y":"DHCR7","x":"SM d18:1/22:0","r":-0.13},
{"g":"N","y":"DHCR7","x":"SM d18:1/22:1","r":-0.17,"s":"*"},
{"g":"N","y":"DHCR7","x":"SM d18:1/24:0","r":-0.13},
{"g":"N","y":"DHCR7","x":"SM d18:1/24:1","r":-0.13},
{"g":"N","y":"DHCR7","x":"TG 57:10-FA22:6","r":0.15},
{"g":"N","y":"ALOX5","x":"CE 14:0","r":-0.04},
{"g":"N","y":"ALOX5","x":"CE 16:0","r":-0.09},
{"g":"N","y":"ALOX5","x":"CE 16:1","r":0.02},
{"g":"N","y":"ALOX5","x":"CE 18:0","r":-0.16,"s":"*"},
{"g":"N","y":"ALOX5","x":"CE 18:1","r":-0.07},
{"g":"N","y":"ALOX5","x":"CE 18:2","r":-0.04},
{"g":"N","y":"ALOX5","x":"CE 18:3","r":-0.02},
{"g":"N","y":"ALOX5","x":"CE 20:3","r":-0.02},
{"g":"N","y":"ALOX5","x":"CE 20:4","r":-0.02},
{"g":"N","y":"ALOX5","x":"CE 20:5","r":-0.07},
{"g":"N","y":"ALOX5","x":"CE 22:6","r":-0.02},
{"g":"N","y":"ALOX5","x":"FA 22:2","r":0.06},
{"g":"N","y":"ALOX5","x":"FA 24:0","r":-0.36,"s":"***"},
{"g":"N","y":"ALOX5","x":"FA 24:1","r":-0.26,"s":"**"},
{"g":"N","y":"ALOX5","x":"LPC 16:0","r":-0.22,"s":"**"},
{"g":"N","y":"ALOX5","x":"LPC 18:1","r":-0.17,"s":"*"},
{"g":"N","y":"ALOX5","x":"LPC 18:2","r":-0.18,"s":"*"},
{"g":"N","y":"ALOX5","x":"PA 34:4","r":0.1},
{"g":"N","y":"ALOX5","x":"PC 16:0_16:1","r":0.08},
{"g":"N","y":"ALOX5","x":"PC 16:0_20:2","r":0.03},
{"g":"N","y":"ALOX5","x":"PC 16:0_20:3","r":0.02},
{"g":"N","y":"ALOX5","x":"PC 16:0_20:4","r":0.05},
{"g":"N","y":"ALOX5","x":"PC 16:0_22:5","r":0.08},
{"g":"N","y":"ALOX5","x":"PC 16:0_22:6","r":0},
{"g":"N","y":"ALOX5","x":"PC 18:1_20:3","r":-0.07},
{"g":"N","y":"ALOX5","x":"PC 18:1_20:4","r":0.02},
{"g":"N","y":"ALOX5","x":"SM d18:1/18:0","r":-0.04},
{"g":"N","y":"ALOX5","x":"SM d18:1/18:1","r":-0.07},
{"g":"N","y":"ALOX5","x":"SM d18:1/20:1","r":0.02},
{"g":"N","y":"ALOX5","x":"SM d18:1/22:0","r":-0.17},
{"g":"N","y":"ALOX5","x":"SM d18:1/22:1","r":-0.16},
{"g":"N","y":"ALOX5","x":"SM d18:1/24:0","r":-0.13},
{"g":"N","y":"ALOX5","x":"SM d18:1/24:1","r":-0.22,"s":"*"},
{"g":"N","y":"ALOX5","x":"TG 57:10-FA22:6","r":0.3,"s":"**"},
{"g":"N","y":"PLTP","x":"CE 14:0","r":-0.09},
{"g":"N","y":"PLTP","x":"CE 16:0","r":-0.11},
{"g":"N","y":"PLTP","x":"CE 16:1","r":-0.02},
{"g":"N","y":"PLTP","x":"CE 18:0","r":-0.17,"s":"*"},
{"g":"N","y":"PLTP","x":"CE 18:1","r":-0.09},
{"g":"N","y":"PLTP","x":"CE 18:2","r":-0.13},
{"g":"N","y":"PLTP","x":"CE 18:3","r":-0.09},
{"g":"N","y":"PLTP","x":"CE 20:3","r":-0.13},
{"g":"N","y":"PLTP","x":"CE 20:4","r":-0.11},
{"g":"N","y":"PLTP","x":"CE 20:5","r":-0.11},
{"g":"N","y":"PLTP","x":"CE 22:6","r":-0.04},
{"g":"N","y":"PLTP","x":"FA 22:2","r":-0.11},
{"g":"N","y":"PLTP","x":"FA 24:0","r":-0.17,"s":"*"},
{"g":"N","y":"PLTP","x":"FA 24:1","r":-0.16,"s":"*"},
{"g":"N","y":"PLTP","x":"LPC 16:0","r":-0.22,"s":"**"},
{"g":"N","y":"PLTP","x":"LPC 18:1","r":-0.11},
{"g":"N","y":"PLTP","x":"LPC 18:2","r":-0.07},
{"g":"N","y":"PLTP","x":"PA 34:4","r":0.15},
{"g":"N","y":"PLTP","x":"PC 16:0_16:1","r":0.28,"s":"**"},
{"g":"N","y":"PLTP","x":"PC 16:0_20:2","r":0.03},
{"g":"N","y":"PLTP","x":"PC 16:0_20:3","r":-0.04},
{"g":"N","y":"PLTP","x":"PC 16:0_20:4","r":-0.04},
{"g":"N","y":"PLTP","x":"PC 16:0_22:5","r":0.05},
{"g":"N","y":"PLTP","x":"PC 16:0_22:6","r":0.05},
{"g":"N","y":"PLTP","x":"PC 18:1_20:3","r":-0.17},
{"g":"N","y":"PLTP","x":"PC 18:1_20:4","r":-0.17},
{"g":"N","y":"PLTP","x":"SM d18:1/18:0","r":0.03},
{"g":"N","y":"PLTP","x":"SM d18:1/18:1","r":-0.04},
{"g":"N","y":"PLTP","x":"SM d18:1/20:1","r":-0.04},
{"g":"N","y":"PLTP","x":"SM d18:1/22:0","r":-0.04},
{"g":"N","y":"PLTP","x":"SM d18:1/22:1","r":-0.07},
{"g":"N","y":"PLTP","x":"SM d18:1/24:0","r":-0.09},
{"g":"N","y":"PLTP","x":"SM d18:1/24:1","r":-0.07},
{"g":"N","y":"PLTP","x":"TG 57:10-FA22:6","r":0.06},
{"g":"N","y":"LDLR","x":"CE 14:0","r":-0.18,"s":"*"},
{"g":"N","y":"LDLR","x":"CE 16:0","r":-0.2,"s":"**"},
{"g":"N","y":"LDLR","x":"CE 16:1","r":-0.17,"s":"*"},
{"g":"N","y":"LDLR","x":"CE 18:0","r":-0.18,"s":"*"},
{"g":"N","y":"LDLR","x":"CE 18:1","r":-0.18,"s":"*"},
{"g":"N","y":"LDLR","x":"CE 18:2","r":-0.2,"s":"**"},
{"g":"N","y":"LDLR","x":"CE 18:3","r":-0.11},
{"g":"N","y":"LDLR","x":"CE 20:3","r":-0.22,"s":"**"},
{"g":"N","y":"LDLR","x":"CE 20:4","r":-0.11},
{"g":"N","y":"LDLR","x":"CE 20:5","r":-0.18,"s":"*"},
{"g":"N","y":"LDLR","x":"CE 22:6","r":-0.09},
{"g":"N","y":"LDLR","x":"FA 22:2","r":0},
{"g":"N","y":"LDLR","x":"FA 24:0","r":-0.17,"s":"*"},
{"g":"N","y":"LDLR","x":"FA 24:1","r":-0.07},
{"g":"N","y":"LDLR","x":"LPC 16:0","r":-0.22,"s":"**"},
{"g":"N","y":"LDLR","x":"LPC 18:1","r":-0.13},
{"g":"N","y":"LDLR","x":"LPC 18:2","r":-0.17,"s":"*"},
{"g":"N","y":"LDLR","x":"PA 34:4","r":0.05},
{"g":"N","y":"LDLR","x":"PC 16:0_16:1","r":0.03},
{"g":"N","y":"LDLR","x":"PC 16:0_20:2","r":-0.07},
{"g":"N","y":"LDLR","x":"PC 16:0_20:3","r":-0.09},
{"g":"N","y":"LDLR","x":"PC 16:0_20:4","r":0.03},
{"g":"N","y":"LDLR","x":"PC 16:0_22:5","r":-0.04},
{"g":"N","y":"LDLR","x":"PC 16:0_22:6","r":-0.09},
{"g":"N","y":"LDLR","x":"PC 18:1_20:3","r":-0.11},
{"g":"N","y":"LDLR","x":"PC 18:1_20:4","r":-0.04},
{"g":"N","y":"LDLR","x":"SM d18:1/18:0","r":0.05},
{"g":"N","y":"LDLR","x":"SM d18:1/18:1","r":0.03},
{"g":"N","y":"LDLR","x":"SM d18:1/20:1","r":0},
{"g":"N","y":"LDLR","x":"SM d18:1/22:0","r":-0.13},
{"g":"N","y":"LDLR","x":"SM d18:1/22:1","r":-0.16},
{"g":"N","y":"LDLR","x":"SM d18:1/24:0","r":-0.16},
{"g":"N","y":"LDLR","x":"SM d18:1/24:1","r":-0.13},
{"g":"N","y":"LDLR","x":"TG 57:10-FA22:6","r":0.1}
]},
"facet": {"row": {"field": "g", "type": "nominal", "sort": ["O", "H", "N"], "title": null,
  "header": {"labelExpr": "datum.value == 'O' ? ['Overall', '(168 Samples)'] : datum.value == 'H' ? ['HYPO', '(79 Samples)'] : ['NORMO', '(89 Samples)']",
    "labelAngle": -90, "labelOrient": "left", "labelAlign": "center", "labelBaseline": "bottom", "labelFont": "Liberation Sans", "labelFontSize": 18.5, "labelLineHeight": 21, "labelColor": "#1a1a1a", "labelPadding": -21}}},
"spacing": 7,
"spec": {
  "width": 686,
  "height": 141,
  "encoding": {
    "x": {"field": "x", "type": "nominal", "title": null,
      "sort": ["CE 14:0","CE 16:0","CE 16:1","CE 18:0","CE 18:1","CE 18:2","CE 18:3","CE 20:3","CE 20:4","CE 20:5","CE 22:6","FA 22:2","FA 24:0","FA 24:1","LPC 16:0","LPC 18:1","LPC 18:2","PA 34:4","PC 16:0_16:1","PC 16:0_20:2","PC 16:0_20:3","PC 16:0_20:4","PC 16:0_22:5","PC 16:0_22:6","PC 18:1_20:3","PC 18:1_20:4","SM d18:1/18:0","SM d18:1/18:1","SM d18:1/20:1","SM d18:1/22:0","SM d18:1/22:1","SM d18:1/24:0","SM d18:1/24:1","TG 57:10-FA22:6"],
      "scale": {"paddingInner": 0, "paddingOuter": 0},
      "axis": {"labelAngle": -90, "labelFont": "Liberation Sans", "labelFontSize": 14.5, "labelColor": "#1a1a1a", "labelPadding": 4, "labelLimit": 200, "ticks": false, "domain": false}},
    "y": {"field": "y", "type": "nominal", "title": null,
      "sort": ["PCSK9","MSMO1","FDFT1","DHCR7","ALOX5","PLTP","LDLR"],
      "scale": {"paddingInner": 0, "paddingOuter": 0},
      "axis": {"orient": "right", "labelFont": "Liberation Sans", "labelFontSize": 14.5, "labelColor": "#1a1a1a", "labelPadding": 3, "ticks": false, "domain": false}}
  },
  "layer": [
    {"mark": {"type": "rect", "stroke": "#d4d4d4", "strokeWidth": 1},
     "encoding": {"color": {"field": "r", "type": "quantitative",
        "scale": {"domain": [-1, 0, 1], "range": ["#00008B", "#FFFFFF", "#FF0000"], "interpolate": "lab"},
        "legend": {"title": "Correlation", "orient": "none", "legendX": 290, "legendY": -47, "direction": "horizontal",
          "gradientLength": 108, "gradientThickness": 15, "values": [-1, -0.5, 0, 0.5, 1],
          "labelExpr": "datum.value == -1 ? '-1' : datum.value == -0.5 ? '-0.5' : datum.value == 0.5 ? '0.5' : datum.value == 1 ? '1' : '0'",
          "titleFont": "Liberation Sans", "titleFontSize": 12.5, "titleFontWeight": "bold", "titleColor": "#1a1a1a", "titlePadding": 1.5,
          "labelFont": "Liberation Sans", "labelFontSize": 13, "labelColor": "#1a1a1a", "labelOverlap": false, "gradientStrokeWidth": 0}}}},
    {"transform": [{"filter": "datum.s"}],
     "mark": {"type": "text", "font": "Liberation Sans", "fontSize": 10.5, "color": "#222222", "baseline": "middle", "dy": 3},
     "encoding": {"text": {"field": "s", "type": "nominal"}}}
  ]
},
"config": {"view": {"stroke": null}}
}
